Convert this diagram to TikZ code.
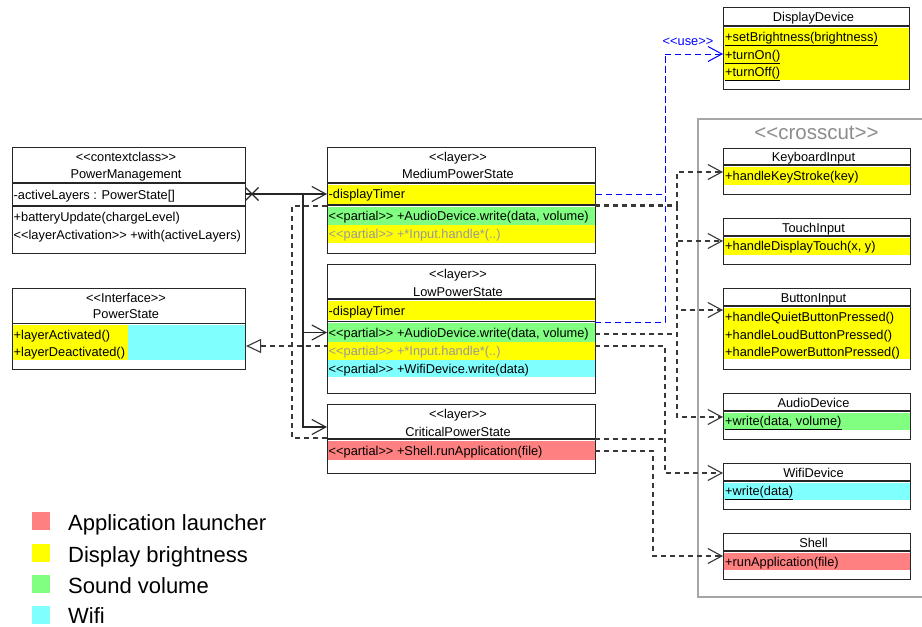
\documentclass[tikz,border=0pt]{standalone}
\usepackage{fontspec}
\setmainfont{Liberation Sans}
\usetikzlibrary{arrows.meta,shapes.misc}

\definecolor{hlyellow}{HTML}{FFFF00}
\definecolor{hlgreen}{HTML}{80FF80}
\definecolor{hlcyan}{HTML}{80FFFF}
\definecolor{hlred}{HTML}{FF8080}
\definecolor{boxline}{HTML}{262626}
\definecolor{depline}{HTML}{383838}
\definecolor{useblue}{HTML}{0000FF}
\definecolor{mutedtext}{HTML}{999999}
\definecolor{crossgray}{HTML}{A6A6A6}
\definecolor{crosstext}{HTML}{8C8C8C}

\newcommand\umlsize{\fontsize{12.8}{15}\selectfont}
% guillemets typed as two separate characters
\newcommand\stOpen{<\kern0pt<}
\newcommand\stClose{>\kern0pt>}

\tikzset{
  classframe/.style={draw=boxline, line width=1.1pt, anchor=north west, inner sep=0pt},
  sep/.style={draw=boxline, line width=1.1pt},
  title/.style={font=\umlsize, inner sep=0pt, text height=9.2pt, text depth=0pt},
  member/.style={title, anchor=west},
  legendtext/.style={font=\fontsize{22}{26}\selectfont, inner sep=0pt, text height=15.8pt, text depth=0pt, anchor=west},
  swatch/.style={minimum size=18pt, inner sep=0pt, anchor=north west},
  opentip/.style={-{Straight Barb[length=14pt,width=15pt]}},
  assoc/.style={draw=boxline, line width=1.1pt},
  dep/.style={draw=depline, line width=1.1pt, dash pattern=on 5pt off 4pt},
  usedep/.style={draw=useblue, line width=1pt, dash pattern=on 6pt off 4pt},
}

\begin{document}
\begin{tikzpicture}[x=1pt,y=-1pt]
\useasboundingbox (0,0) rectangle (922,627);
\fill[white] (0,0) rectangle (922,627);

% ---------- crosscut package frame ----------
\node[draw=crossgray, line width=1.6pt, anchor=north west, minimum width=240pt, minimum height=478pt, inner sep=0pt] (crosscut) at (697,118) {};
\node[font=\fontsize{20.5}{24}\selectfont, text=crosstext, inner sep=0pt, text height=14.7pt, text depth=0pt] (crosscutLabel) at (816.5,132) {\stOpen crosscut\stClose};

% ---------- PowerManagement ----------
\node[classframe, minimum width=233pt, minimum height=106pt] (pm) at (12,147) {};
\draw[sep] (12,183) -- (245,183);
\draw[sep] (12,206) -- (245,206);
\node[title] (pmStereo) at (126,157) {\stOpen contextclass\stClose};
\node[title] (pmName) at (126,174) {PowerManagement};
\node[member] (pmAttr) at (13.5,194.5) {-activeLayers : PowerState[]};
\node[member] (pmOp1) at (13.5,216.5) {+batteryUpdate(chargeLevel)};
\node[member] (pmOp2) at (13.5,234.5) {\stOpen layerActivation\stClose{} +with(activeLayers)};

% ---------- PowerState ----------
\fill[hlyellow] (12,325) rectangle (128,360);
\fill[hlcyan] (128,325) rectangle (245,360);
\node[classframe, minimum width=233pt, minimum height=81pt] (ps) at (12,288) {};
\draw[sep] (12,323.5) -- (245,323.5);
\node[title] (psStereo) at (126,297.5) {\stOpen Interface\stClose};
\node[title] (psName) at (126,314) {PowerState};
\node[member] (psOp1) at (13.5,334.5) {+layerActivated()};
\node[member] (psOp2) at (13.5,351.5) {+layerDeactivated()};

% ---------- MediumPowerState ----------
\fill[hlyellow] (327,184.5) rectangle (595,203.5);
\fill[hlgreen] (327,206.5) rectangle (595,225);
\fill[hlyellow] (327,225) rectangle (595,243);
\node[classframe, minimum width=268pt, minimum height=106pt] (med) at (327,147) {};
\draw[sep] (327,183) -- (595,183);
\draw[sep] (327,205) -- (595,205);
\node[title] (medStereo) at (458,157) {\stOpen layer\stClose};
\node[title] (medName) at (458,174) {MediumPowerState};
\node[member] (medTimer) at (328.5,194) {-displayTimer};
\node[member] (medAudio) at (328.5,216) {\stOpen partial\stClose{} +AudioDevice.write(data, volume)};
\node[member, text=mutedtext] (medInput) at (328.5,234) {\stOpen partial\stClose{} +*Input.handle*(..)};

% ---------- LowPowerState ----------
\fill[hlyellow] (327,300.5) rectangle (595,320);
\fill[hlgreen] (327,322.5) rectangle (595,341.5);
\fill[hlyellow] (327,341.5) rectangle (595,359.5);
\fill[hlcyan] (327,359.5) rectangle (595,377);
\node[classframe, minimum width=268pt, minimum height=129pt] (low) at (327,264) {};
\draw[sep] (327,299) -- (595,299);
\draw[sep] (327,321.5) -- (595,321.5);
\node[title] (lowStereo) at (458,274) {\stOpen layer\stClose};
\node[title] (lowName) at (458,291.5) {LowPowerState};
\node[member] (lowTimer) at (328.5,310.5) {-displayTimer};
\node[member] (lowAudio) at (328.5,332.5) {\stOpen partial\stClose{} +AudioDevice.write(data, volume)};
\node[member, text=mutedtext] (lowInput) at (328.5,350.5) {\stOpen partial\stClose{} +*Input.handle*(..)};
\node[member] (lowWifi) at (328.5,368.5) {\stOpen partial\stClose{} +WifiDevice.write(data)};

% ---------- CriticalPowerState ----------
\fill[hlred] (327,441) rectangle (595,459.5);
\node[classframe, minimum width=268pt, minimum height=69pt] (crit) at (327,404) {};
\draw[sep] (327,439) -- (595,439);
\node[title] (critStereo) at (458,414) {\stOpen layer\stClose};
\node[title] (critName) at (458,431.5) {CriticalPowerState};
\node[member] (critShell) at (328.5,450.5) {\stOpen partial\stClose{} +Shell.runApplication(file)};

% ---------- DisplayDevice ----------
\fill[hlyellow] (723,27.5) rectangle (909,80);
\node[classframe, minimum width=186pt, minimum height=82pt] (dd) at (723,7) {};
\draw[sep] (723,26) -- (909,26);
\node[title] (ddName) at (813.5,16.5) {DisplayDevice};
\node[member] (ddOp1) at (725,37) {\underline{+setBrightness(brightness)}};
\node[member] (ddOp2) at (725,54.5) {\underline{+turnOn()}};
\node[member] (ddOp3) at (725,72) {\underline{+turnOff()}};

% ---------- KeyboardInput ----------
\fill[hlyellow] (723,166.5) rectangle (910,185);
\node[classframe, minimum width=187pt, minimum height=46pt] (kb) at (723,148) {};
\draw[sep] (723,165) -- (910,165);
\node[title] (kbName) at (813.5,157) {KeyboardInput};
\node[member] (kbOp) at (725,175.5) {+handleKeyStroke(key)};

% ---------- TouchInput ----------
\fill[hlyellow] (723,237.5) rectangle (910,255);
\node[classframe, minimum width=187pt, minimum height=46pt] (touch) at (723,218) {};
\draw[sep] (723,236) -- (910,236);
\node[title] (touchName) at (813.5,227.5) {TouchInput};
\node[member] (touchOp) at (725,246) {+handleDisplayTouch(x, y)};

% ---------- ButtonInput ----------
\fill[hlyellow] (723,307.5) rectangle (910,359);
\node[classframe, minimum width=187pt, minimum height=81pt] (btn) at (723,288) {};
\draw[sep] (723,306) -- (910,306);
\node[title] (btnName) at (813.5,297.5) {ButtonInput};
\node[member] (btnOp1) at (725,317) {+handleQuietButtonPressed()};
\node[member] (btnOp2) at (725,334.5) {+handleLoudButtonPressed()};
\node[member] (btnOp3) at (725,352) {+handlePowerButtonPressed()};

% ---------- AudioDevice ----------
\fill[hlgreen] (723,412.5) rectangle (910,430);
\node[classframe, minimum width=187pt, minimum height=46pt] (audio) at (723,393) {};
\draw[sep] (723,411) -- (910,411);
\node[title] (audioName) at (813.5,402.5) {AudioDevice};
\node[member] (audioOp) at (725,421) {\underline{+write(data, volume)}};

% ---------- WifiDevice ----------
\fill[hlcyan] (723,482.5) rectangle (910,500);
\node[classframe, minimum width=187pt, minimum height=46pt] (wifi) at (723,463) {};
\draw[sep] (723,481) -- (910,481);
\node[title] (wifiName) at (813.5,472.5) {WifiDevice};
\node[member] (wifiOp) at (725,491) {\underline{+write(data)}};

% ---------- Shell ----------
\fill[hlred] (723,552.5) rectangle (910,570);
\node[classframe, minimum width=187pt, minimum height=46pt] (shell) at (723,533) {};
\draw[sep] (723,551) -- (910,551);
\node[title] (shellName) at (813.5,542.5) {Shell};
\node[member] (shellOp) at (725,561.5) {+runApplication(file)};

% ---------- association PowerManagement -> layers ----------
\node[cross out, draw=boxline, line width=1.1pt, minimum size=12pt, inner sep=0pt] (navX) at (252,194) {};
\coordinate (assocJ) at (303,194);
\coordinate (critIn) at (327,427);
\draw[assoc] (pm.east |- assocJ) -- (assocJ);
\draw[assoc, opentip] (assocJ) -- (med.west |- assocJ);
\draw[assoc, opentip] (assocJ) |- (low.west |- lowAudio.west);
\draw[assoc, opentip] (assocJ) |- (critIn);

% ---------- realization of PowerState ----------
\coordinate (realJ) at (292,346);
\coordinate (medRealOut) at (327,206);
\coordinate (critRealOut) at (327,438);
\draw[dep, {Triangle[open,length=15pt,width=14pt,fill=white]}-] (ps.east |- realJ) -- (low.west |- realJ);
\draw[dep] (medRealOut) -| (realJ);
\draw[dep] (critRealOut) -| (realJ);

% ---------- <<use>> of DisplayDevice ----------
\coordinate (useJ) at (665,54);
\coordinate (lowUseOut) at (595,322);
\draw[usedep] (med.east |- medTimer.west) -| (useJ);
\draw[usedep] (lowUseOut) -| (useJ);
\draw[usedep, opentip] (useJ) -- (dd.west |- useJ);
\node[font=\umlsize, text=useblue, inner sep=0pt, text height=9.2pt, text depth=0pt] (useLabel) at (688,40.5) {\stOpen use\stClose};

% ---------- dependencies into the crosscut classes ----------
\coordinate (depJ) at (677,206);
\coordinate (medDepOut) at (595,206);
\coordinate (medDepOutB) at (595,204.5);
\coordinate (kbIn) at (723,172);
\coordinate (touchIn) at (723,241);
\coordinate (btnIn) at (723,310);
\coordinate (audioIn) at (723,417);
\coordinate (lowAudioOut) at (595,334);
\draw[dep] (medDepOut) -- (depJ);
\draw[dep] (medDepOutB) -- (medDepOutB -| depJ);
\draw[dep, opentip] (depJ) |- (kbIn);
\draw[dep, opentip] (depJ) |- (touchIn);
\draw[dep, opentip] (depJ) |- (btnIn);
\draw[dep, opentip] (depJ) |- (audioIn);
\draw[dep] (lowAudioOut) -- (lowAudioOut -| depJ);

\coordinate (lowWifiOut) at (595,346);
\coordinate (wifiJ) at (665,473);
\coordinate (wifiIn) at (723,473);
\coordinate (critDepOut) at (595,439);
\draw[dep, opentip] (lowWifiOut) -| (wifiJ) -- (wifiIn);
\draw[dep] (critDepOut) -- (critDepOut -| wifiJ);

\coordinate (critRedOut) at (595,451);
\coordinate (shellJ) at (653,556);
\coordinate (shellIn) at (723,556);
\draw[dep, opentip] (critRedOut) -| (shellJ) -- (shellIn);

% ---------- legend ----------
\node[swatch, fill=hlred] (swRed) at (32,512) {};
\node[legendtext] (lgRed) at (68,522.5) {Application launcher};
\node[swatch, fill=hlyellow] (swYellow) at (32,544) {};
\node[legendtext] (lgYellow) at (68,554.5) {Display brightness};
\node[swatch, fill=hlgreen] (swGreen) at (32,575) {};
\node[legendtext] (lgGreen) at (68,585.5) {Sound volume};
\node[swatch, fill=hlcyan] (swCyan) at (32,606) {};
\node[legendtext] (lgCyan) at (68,616) {Wifi};
\end{tikzpicture}
\end{document}
